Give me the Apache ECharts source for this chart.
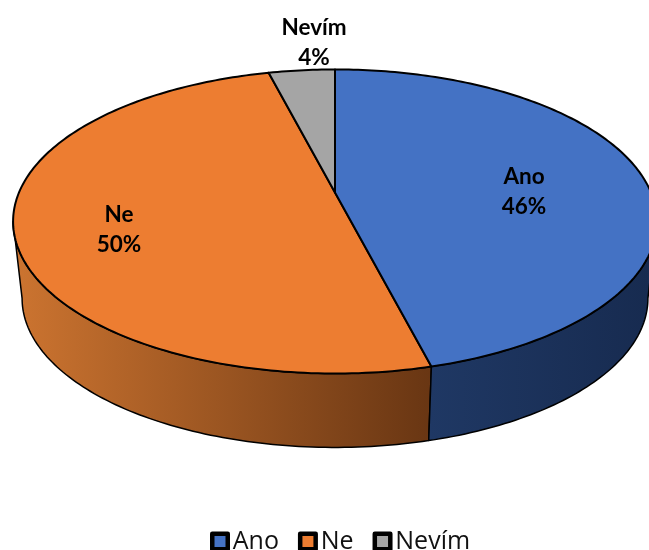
<!DOCTYPE html>
<html><head><meta charset="utf-8">
<style>html,body{margin:0;padding:0;background:#fff}#c{width:649px;height:550px}</style>
<script src="https://cdn.jsdelivr.net/npm/echarts@6/dist/echarts.min.js"></script>
</head><body><div id="c"></div>
<script>
const categories = ['Ano', 'Ne', 'Nevím'];
const values = [46, 50, 4];
const topColors = ['#4472C4', '#ED7D31', '#A5A5A5'];

// view geometry: a perspective projection of a flat disc
const labelAnchors = [[524, 191.5], [119, 229.5], [314, 42.5]];
const legendFont = '"Open Sans"';
const G = {cx: 335, cy: 192.5, a: 316, b: 146.5, k: 0.1908, depth: 77.5, shrinkX: 0.972, shrinkY: 0.98};
const wallGrad = [
  [[429, '#1F3864'], [649, '#172B50']],
  [[15, '#CC7430'], [430, '#693613']],
  [[0, '#666'], [1, '#666']]
];
const total = values.reduce((s, v) => s + v, 0);
const rad = d => d * Math.PI / 180;
function project(deg, lower) {
  const u = Math.sin(rad(deg)), v = -Math.cos(rad(deg));
  const d = 1 - G.k * v;
  const sx = lower ? G.shrinkX : 1, sy = lower ? G.shrinkY : 1;
  return [G.cx + sx * G.a * u / d, G.cy + (lower ? G.depth : 0) + sy * G.b * v / d];
}
function arc(from, to, lower) {
  const pts = [], n = Math.max(2, Math.ceil(Math.abs(to - from) / 1));
  for (let i = 0; i <= n; i++) pts.push(project(from + (to - from) * i / n, lower));
  return pts;
}
const visFrom = Math.acos(-G.k) * 180 / Math.PI, visTo = 360 - visFrom;

function renderer(idx) {
  return function (params, api) {
    const before = values.slice(0, idx).reduce((s, v) => s + v, 0);
    const start = before / total * 360;
    const end = start + api.value(0) / total * 360;
    const children = [];
    const wFrom = Math.max(start, visFrom), wTo = Math.min(end, visTo);
    if (wTo > wFrom) {
      const pts = arc(wFrom, wTo, false).concat(arc(wTo, wFrom, true));
      const gr = wallGrad[idx];
      children.push({
        type: 'polygon', shape: {points: pts},
        style: {
          fill: new echarts.graphic.LinearGradient(gr[0][0], 0, gr[1][0], 0,
            [{offset: 0, color: gr[0][1]}, {offset: 1, color: gr[1][1]}], true),
          stroke: '#000', lineWidth: 1.5, lineJoin: 'round'
        }
      });
    }
    children.push({
      type: 'polygon', z2: 5, shape: {points: [[G.cx, G.cy]].concat(arc(start, end, false))},
      style: {fill: topColors[idx], stroke: '#000', lineWidth: 2, lineJoin: 'round'}
    });
    children.push({
      type: 'text', z2: 10, x: labelAnchors[idx][0], y: labelAnchors[idx][1],
      style: {
        text: categories[idx] + '\n' + api.value(0) + '%',
        font: 'bold 22.5px Lato', lineHeight: 30, fill: '#000',
        align: 'center', verticalAlign: 'middle'
      }
    });
    return {type: 'group', children};
  };
}

const chart = echarts.init(document.getElementById('c'), null, {renderer: 'canvas'});
chart.setOption({
  animation: false,
  backgroundColor: '#fff',
  legend: {
    data: categories, left: 210, top: 529, padding: 0, itemWidth: 15.5, itemHeight: 15.5, itemGap: 19,
    icon: 'rect',
    itemStyle: {borderColor: '#000', borderWidth: 4.5, borderJoin: 'round'},
    textStyle: {fontFamily: legendFont, fontSize: 25, color: '#111'},
    selectedMode: false
  },
  series: categories.map((name, i) => ({
    type: 'custom', name, coordinateSystem: 'none', silent: true, z: i === 2 ? 4 : 3 - i,
    itemStyle: {color: topColors[i]},
    data: [[values[i]]],
    renderItem: renderer(i)
  }))
});
</script></body></html>
